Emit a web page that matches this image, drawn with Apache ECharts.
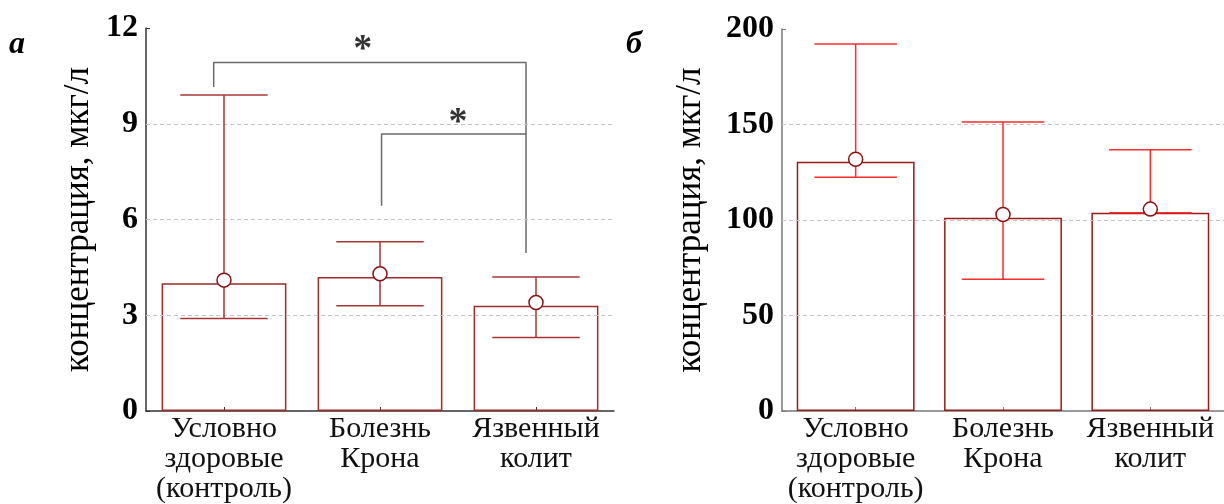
<!DOCTYPE html>
<html>
<head>
<meta charset="utf-8">
<script src="https://cdn.jsdelivr.net/npm/echarts@6/dist/echarts.min.js"></script>
<style>html,body{margin:0;padding:0;background:#fff;}#c{width:1224px;height:504px;}</style>
</head>
<body>
<div id="c"></div>
<script>
const categories = ['Условно\nздоровые\n(контроль)', 'Болезнь\nКрона', 'Язвенный\nколит'];
// panel а
const barA = [4.0, 4.2, 3.3];
const meanA = [4.1, 4.3, 3.4];
const errLowA = [2.9, 3.3, 2.3];
const errHighA = [9.9, 5.3, 4.2];
const gridValsA = [3, 6, 9];
// panel б
const barB = [130.5, 101.2, 103.8];
const meanB = [131.8, 102.9, 105.7];
const errLowB = [122.4, 69.0, 103.8];
const errHighB = [192.2, 151.3, 136.8];
const gridValsB = [50, 100, 150];
// significance brackets (x in category units)
const bracketBig = [[-0.066, 10.15], [-0.066, 10.92], [1.936, 10.92], [1.936, 4.95]];
const bracketSmall = [[1.01, 6.43], [1.01, 8.68], [1.936, 8.68]];
const stars = [[0.89, 11.3], [1.5, 9.02]];

const SERIF = '"Liberation Serif", "DejaVu Serif", serif';

function errSeries(xAxisIndex, yAxisIndex, lows, highs, color) {
  return {
    type: 'custom', xAxisIndex, yAxisIndex, z: 5,
    data: lows.map((l, i) => [i, l, highs[i]]),
    renderItem: function (params, api) {
      const x = api.value(0);
      const pLo = api.coord([x, api.value(1)]);
      const pHi = api.coord([x, api.value(2)]);
      const hw = api.size([1, 0])[0] * 0.28;
      const st = { stroke: color, lineWidth: 1.5 };
      return {
        type: 'group',
        children: [
          { type: 'line', shape: { x1: pLo[0], y1: pLo[1], x2: pHi[0], y2: pHi[1] }, style: st },
          { type: 'line', shape: { x1: pHi[0] - hw, y1: pHi[1], x2: pHi[0] + hw, y2: pHi[1] }, style: st },
          { type: 'line', shape: { x1: pLo[0] - hw, y1: pLo[1], x2: pLo[0] + hw, y2: pLo[1] }, style: st }
        ]
      };
    }
  };
}

function gridMark(vals) {
  return {
    silent: true, symbol: 'none', label: { show: false },
    lineStyle: { type: [4, 3], color: '#c4c4c4', width: 1 },
    data: vals.map(v => ({ yAxis: v }))
  };
}

function yAxisCfg(gridIndex, max, interval, nameGap, axisColor) {
  return {
    type: 'value', gridIndex, min: 0, max, interval,
    name: 'концентрация, мкг/л', nameLocation: 'middle', nameGap,
    nameTextStyle: { fontFamily: SERIF, fontSize: 35, color: '#000' },
    axisLine: { show: true, onZero: false, lineStyle: { color: axisColor, width: 1.5 } },
    axisTick: { show: true, inside: true, length: 4, lineStyle: { color: axisColor } },
    axisLabel: { fontFamily: SERIF, fontSize: 32, fontWeight: 'bold', color: '#000', margin: 8 },
    splitLine: { show: false }
  };
}

function xAxisCfg(gridIndex, axisColor) {
  return {
    type: 'category', gridIndex, data: categories, boundaryGap: true,
    axisLine: { show: true, onZero: false, lineStyle: { color: axisColor, width: 1.5 } },
    axisTick: { show: true, inside: true, alignWithLabel: true, length: 4, lineStyle: { color: axisColor } },
    axisLabel: { interval: 0, fontFamily: SERIF, fontSize: 30, lineHeight: 30, color: '#111', margin: 3 },
    splitLine: { show: false }
  };
}

const chart = echarts.init(document.getElementById('c'), null, { renderer: 'canvas' });
chart.setOption({
  animation: false,
  backgroundColor: '#fff',
  grid: [
    { left: 146, top: 28, width: 468, height: 388 },
    { left: 782, top: 29, width: 448, height: 387 }
  ],
  xAxis: [
    xAxisCfg(0, '#333'),
    xAxisCfg(1, '#777'),
    { type: 'value', gridIndex: 0, min: -0.5, max: 2.5, show: false }
  ],
  yAxis: [
    yAxisCfg(0, 12, 3, 50, '#333'),
    yAxisCfg(1, 200, 50, 74, '#777')
  ],
  graphic: [
    { type: 'text', left: 9, top: 29, style: { text: 'а', font: 'italic bold 32px ' + SERIF, fill: '#000' } },
    { type: 'text', left: 626, top: 29, style: { text: 'б', font: 'italic bold 32px ' + SERIF, fill: '#000' } }
  ],
  series: [
    {
      type: 'bar', xAxisIndex: 0, yAxisIndex: 0, data: barA, barWidth: '80%', z: 2,
      itemStyle: { color: 'rgba(255,255,255,0)', borderColor: '#9e2a2a', borderWidth: 1.5 },
      markLine: gridMark(gridValsA)
    },
    errSeries(0, 0, errLowA, errHighA, '#a83434'),
    {
      type: 'scatter', xAxisIndex: 0, yAxisIndex: 0, data: meanA, symbol: 'circle', symbolSize: 14, z: 6,
      itemStyle: { color: '#fff', borderColor: '#8b1010', borderWidth: 1.5, opacity: 1 }
    },
    {
      type: 'line', xAxisIndex: 2, yAxisIndex: 0, data: bracketBig, symbol: 'none', z: 4,
      lineStyle: { color: '#6a6a6a', width: 1.5 }
    },
    {
      type: 'line', xAxisIndex: 2, yAxisIndex: 0, data: bracketSmall, symbol: 'none', z: 4,
      lineStyle: { color: '#6a6a6a', width: 1.5 }
    },
    {
      type: 'scatter', xAxisIndex: 2, yAxisIndex: 0, data: stars, symbol: 'circle', symbolSize: 0, z: 7,
      label: { show: true, position: 'inside', formatter: '*', fontFamily: SERIF, fontWeight: 'bold', fontSize: 38, color: '#000' }
    },
    {
      type: 'bar', xAxisIndex: 1, yAxisIndex: 1, data: barB, barWidth: '80%', z: 2,
      itemStyle: { color: 'rgba(255,255,255,0)', borderColor: '#9a1a1a', borderWidth: 1.5 },
      markLine: gridMark(gridValsB)
    },
    errSeries(1, 1, errLowB, errHighB, '#ff2a2a'),
    {
      type: 'scatter', xAxisIndex: 1, yAxisIndex: 1, data: meanB, symbol: 'circle', symbolSize: 14, z: 6,
      itemStyle: { color: '#fff', borderColor: '#8b1010', borderWidth: 1.5, opacity: 1 }
    }
  ]
});
</script>
</body>
</html>
